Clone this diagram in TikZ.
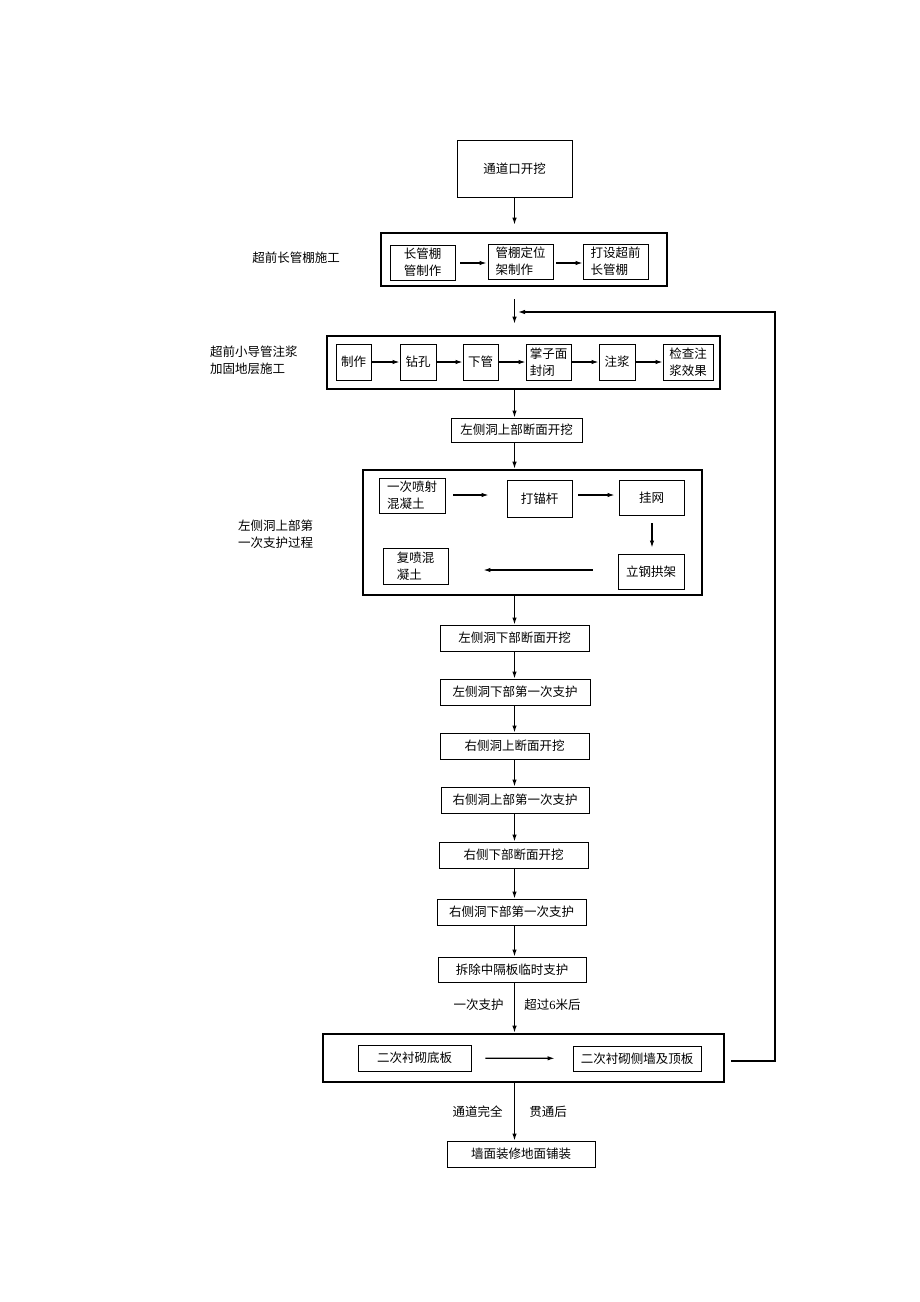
\documentclass[tikz,border=0pt]{standalone}
\usepackage{fontspec}
\setmainfont{Liberation Serif}
\newfontfamily\cjk{Noto Sans CJK SC}
\usetikzlibrary{arrows.meta,calc}
\begin{document}
\begin{tikzpicture}[x=1pt,y=-1pt,
  every node/.style={font=\cjk\fontsize{12.5}{17}\selectfont, inner sep=0pt},
  box/.style={draw, line width=0.9pt, align=center},
  lbox/.style={draw, line width=0.9pt, align=left},
  thick box/.style={draw, line width=2.6pt},
  lab/.style={align=left},
  arr/.style={line width=1.2pt, -{Latex[length=7pt,width=4.5pt]}},
  ln/.style={line width=1.2pt}]
\useasboundingbox (0,0) rectangle (920,1302);

% top
\node[box, minimum width=115pt, minimum height=57pt] (n1) at (514.5,168.5) {通道口开挖};

% box 1
\node[thick box, minimum width=286pt, minimum height=53pt] (b1) at (524,259.5) {};
\node[lbox, minimum width=65pt, minimum height=35pt] (b1a) at (422.5,262.5) {长管棚\\管制作};
\node[lbox, minimum width=65pt, minimum height=35pt] (b1b) at (520.5,261.5) {管棚定位\\架制作};
\node[lbox, minimum width=65pt, minimum height=35pt] (b1c) at (615.5,261.5) {打设超前\\长管棚};
\node[lab] (l1) at (296,258) {超前长管棚施工};

% box 2
\node[thick box, minimum width=393pt, minimum height=53pt] (b2) at (523.5,362.5) {};
\node[box, minimum width=35pt, minimum height=36pt] (c1) at (353.5,362) {制作};
\node[box, minimum width=36pt, minimum height=36pt] (c2) at (418,362) {钻孔};
\node[box, minimum width=35pt, minimum height=36pt] (c3) at (480.5,362) {下管};
\node[lbox, minimum width=45pt, minimum height=36pt] (c4) at (548.5,362) {掌子面\\封闭};
\node[box, minimum width=36pt, minimum height=36pt] (c5) at (617,362) {注浆};
\node[lbox, minimum width=50pt, minimum height=36pt] (c6) at (688,362) {检查注\\浆效果};
\node[lab, anchor=west] (l2) at (210,360) {超前小导管注浆\\加固地层施工};

\node[box, minimum width=131pt, minimum height=24pt] (n2) at (516.5,430) {左侧洞上部断面开挖};

% box 3
\node[thick box, minimum width=339pt, minimum height=125pt] (b3) at (532.5,532.5) {};
\node[lbox, minimum width=66pt, minimum height=35pt] (d1) at (412,495.5) {一次喷射\\混凝土};
\node[box, minimum width=65pt, minimum height=37pt] (d2) at (539.5,498.5) {打锚杆};
\node[box, minimum width=65pt, minimum height=35pt] (d3) at (651.5,497.5) {挂网};
\node[box, minimum width=66pt, minimum height=35pt] (d4) at (651,571.5) {立钢拱架};
\node[lbox, minimum width=65pt, minimum height=36pt] (d5) at (415.5,566) {复喷混\\凝土};
\node[lab, anchor=west] (l3) at (238,534) {左侧洞上部第\\一次支护过程};

% list
\node[box, minimum width=149pt, minimum height=26pt] (m1) at (514.5,638) {左侧洞下部断面开挖};
\node[box, minimum width=150pt, minimum height=26pt] (m2) at (515,692) {左侧洞下部第一次支护};
\node[box, minimum width=149pt, minimum height=26pt] (m3) at (514.5,746) {右侧洞上断面开挖};
\node[box, minimum width=148pt, minimum height=26pt] (m4) at (515,800) {右侧洞上部第一次支护};
\node[box, minimum width=149pt, minimum height=26pt] (m5) at (513.5,855) {右侧下部断面开挖};
\node[box, minimum width=149pt, minimum height=26pt] (m6) at (511.5,912) {右侧洞下部第一次支护};
\node[box, minimum width=148pt, minimum height=25pt] (m7) at (512,969.5) {拆除中隔板临时支护};

\node (t1) at (478.5,1005) {一次支护};
\node (t2) at (552.5,1005) {超过{\rmfamily 6}米后};

% box 4
\node[thick box, minimum width=401pt, minimum height=48pt] (b4) at (523.5,1058) {};
\node[box, minimum width=113pt, minimum height=26pt] (e1) at (414.5,1058) {二次衬砌底板};
\node[box, minimum width=128pt, minimum height=25pt] (e2) at (637,1058.5) {二次衬砌侧墙及顶板};

\node (t3) at (477.5,1112) {通道完全};
\node (t4) at (548,1112) {贯通后};

\node[box, minimum width=148pt, minimum height=26pt] (m8) at (521,1154) {墙面装修地面铺装};

% main vertical arrows
\draw[arr, shorten >=7pt] (n1.south) -- (n1.south |- b1.north);
\draw[arr, shorten <=12pt, shorten >=11pt] (n1.south |- b1.south) -- (n1.south |- b2.north);
\draw[arr] (n1.south |- b2.south) -- (n1.south |- n2.north);
\draw[arr] (n1.south |- n2.south) -- (n1.south |- b3.north);
\draw[arr] (n1.south |- b3.south) -- (n1.south |- m1.north);
\draw[arr] (n1.south |- m1.south) -- (n1.south |- m2.north);
\draw[arr] (n1.south |- m2.south) -- (n1.south |- m3.north);
\draw[arr] (n1.south |- m3.south) -- (n1.south |- m4.north);
\draw[arr] (n1.south |- m4.south) -- (n1.south |- m5.north);
\draw[arr] (n1.south |- m5.south) -- (n1.south |- m6.north);
\draw[arr] (n1.south |- m6.south) -- (n1.south |- m7.north);
\draw[arr] (n1.south |- m7.south) -- (n1.south |- b4.north);
\draw[arr] (n1.south |- b4.south) -- (n1.south |- m8.north);

% inner arrows box 1
\draw[arr, shorten <=5pt, shorten >=1pt] (b1a.east |- 0,263) -- (b1b.west |- 0,263);
\draw[arr, shorten <=3pt] (b1b.east |- 0,263) -- (b1c.west |- 0,263);
% box 2
\draw[arr] (c1) -- (c2);
\draw[arr] (c2) -- (c3);
\draw[arr] (c3) -- (c4);
\draw[arr] (c4) -- (c5);
\draw[arr] (c5) -- (c6);
% box 3
\draw[arr, shorten <=8pt, shorten >=18pt] (d1.east |- 0,495) -- (d2.west |- 0,495);
\draw[arr, shorten <=6pt, shorten >=4pt] (d2.east |- 0,495) -- (d3.west |- 0,495);
\draw[arr, shorten <=8pt, shorten >=6pt] (d3.south -| 652,0) -- (d4.north -| 652,0);
\draw[arr, shorten <=25pt, shorten >=35pt] (d4.west |- 0,570) -- (d5.east |- 0,570);
% box 4
\draw[arr, shorten <=14pt, shorten >=18pt] (e1) -- (e2);

% feedback loop
\coordinate (fa) at (731,1061);
\coordinate (fb) at (775,1061);
\coordinate (fc) at (775,312);
\coordinate (fd) at (518,312);
\draw[arr] (fa) -- (fb) -- (fc) -- (fd);
\end{tikzpicture}
\end{document}
